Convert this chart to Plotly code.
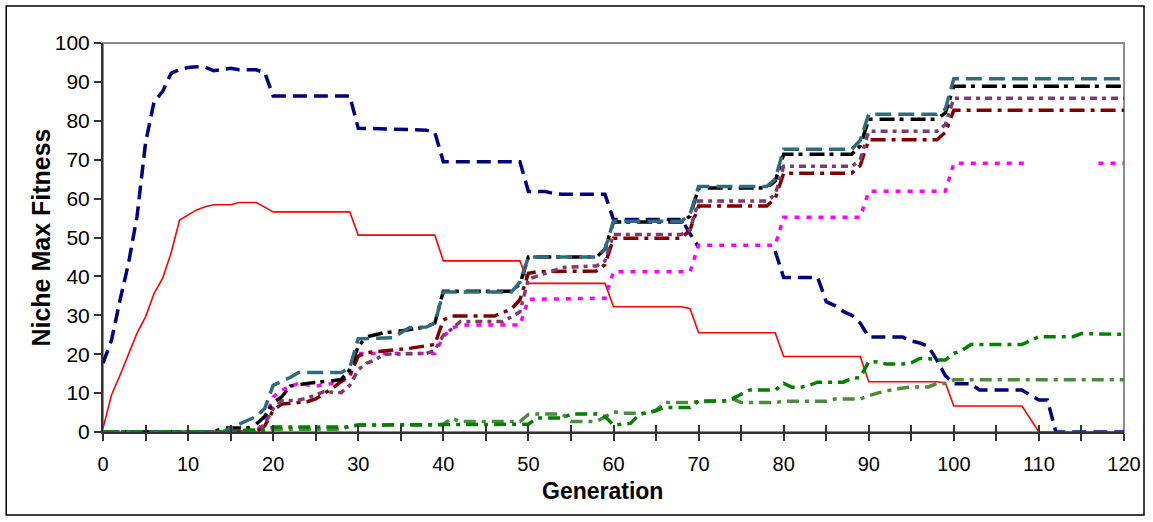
import plotly.graph_objects as go

# ---------------- data (generation, value) vertices ----------------
navy_x = [0, 1, 2, 3, 4, 5, 6, 7, 8, 9, 10, 11, 12, 13, 14, 15, 16, 17, 18, 19, 20, 29, 30, 38, 39, 40,
          49, 50, 52, 53, 54, 58, 59, 60, 68, 69, 70, None, 79, 80, 84, 85, 86, 87, 88, 89, 90, 94, 95, 96,
          97, 98, 99, 100, 102, 103, 108, 110, 111, 112, 120]
navy_y = [17.7, 23.6, 33.9, 43.4, 55.4, 74.3, 84.9, 87.5, 92.2, 93.2, 93.7, 93.9, 93.8, 92.9, 93.2, 93.5,
          93.1, 93.1, 93.1, 92.4, 86.4, 86.4, 78.1, 77.6, 77.0, 69.5, 69.5, 61.8, 61.8, 61.3, 61.1, 61.1,
          61.1, 54.6, 54.6, 51.0, 47.5, None, 46.5, 39.7, 39.7, 33.5, 32.5, 31.0, 30.0, 28.0, 24.4, 24.4,
          23.4, 22.9, 22.0, 18.5, 14.5, 12.4, 12.4, 10.8, 10.8, 8.2, 8.2, 0, 0]

red_x = [0, 1, 2, 3, 4, 5, 6, 7, 8, 9, 10, 11, 12, 13, 14, 15, 16, 17, 18, 19, 20, 29, 30, 39, 40, 49, 50,
         59, 60, 68, 69, 70, 79, 80, 89, 90, 98, 99, 100, 108, 109, 110, 120]
red_y = [1.0, 9.5, 14.6, 20.2, 25.4, 29.6, 35.6, 39.5, 46.0, 54.5, 55.8, 57.1, 57.9, 58.4, 58.4, 58.4,
         59.0, 59.0, 59.0, 57.8, 56.6, 56.6, 50.6, 50.6, 44.0, 44.0, 38.2, 38.2, 32.2, 32.2, 31.7, 25.5,
         25.5, 19.4, 19.4, 12.9, 12.9, 12.6, 6.7, 6.7, 3.4, 0, 0]

teal_x = [0, 14, 15, 16, 17, 18, 19, 20, 21, 22, 23, 28, 29, 30, 34, 35, 36, 38, 39, 40, 48, 49, 50, 58,
          59, 60, 68, 69, 70, 78, 79, 80, 88, 89, 90, 98, 99, 100, 120]
teal_y = [0, 0, 1, 2, 3, 4, 6, 12, 13, 14, 15.3, 15.3, 16.5, 24, 24.2, 25.5, 26.8, 27, 28, 36, 36, 38.5,
          45, 45, 47, 54.2, 54.2, 56, 63.1, 63.1, 65, 72.7, 72.7, 75, 81.7, 81.7, 83, 90.8, 90.8]

black_x = [0, 13, 14, 17, 18, 19, 20, 21, 22, 24, 27, 28, 29, 30, 31, 33, 35, 38, 39, 40, 48, 49, 50, 58,
           59, 60, 68, 69, 70, 78, 79, 80, 88, 89, 90, 98, 99, 100, 120]
black_y = [0, 0, 1, 1, 2, 4, 7.5, 9, 11.8, 12.5, 13.2, 13.5, 16, 22, 24.5, 25.5, 26, 27, 28, 36.2, 36.2,
           38, 45, 45, 47, 54, 54, 55.5, 62.7, 62.7, 64.5, 71.4, 71.4, 73.5, 80.4, 80.4, 82, 88.9, 88.9]

purple_x = [0, 18, 19, 20, 21, 23, 24, 26, 28, 29, 30, 31, 32, 33, 38, 39, 40, 41, 42, 47, 48, 49, 50, 51,
            52, 54, 58, 59, 60, 68, 69, 70, 78, 79, 80, 88, 89, 90, 98, 99, 100, 120]
purple_y = [0, 0, 2, 6, 8, 8.2, 8.7, 10.4, 10.1, 12, 16, 17.7, 18.5, 20, 20.2, 21, 24.9, 26.5, 28.4, 28.4,
            29.6, 30.9, 39.3, 40, 40.8, 42.3, 42.7, 44, 50.8, 50.8, 52, 59.4, 59.4, 61, 68.3, 68.3, 70,
            77.3, 77.3, 79, 85.8, 85.8]

dred_x = [0, 18, 19, 20, 21, 24, 25, 27, 28, 29, 30, 31, 36, 38, 39, 40, 41, 46, 48, 49, 50, 51, 58, 59,
          60, 68, 69, 70, 78, 79, 80, 88, 89, 90, 98, 99, 100, 120]
dred_y = [0, 0, 1.5, 5.6, 7.2, 7.8, 8.5, 11.3, 13, 14.5, 19.5, 20.4, 21.5, 22.1, 22.5, 28.8, 29.8, 29.8,
          31.6, 34, 40.8, 41.2, 41.4, 43, 49.8, 49.8, 52, 58.1, 58.1, 60, 66.5, 66.5, 68.5, 75.1, 75.1,
          77, 82.7, 82.7]

magenta_x = [0, 18, 19, 20, 21, 22, 23, 25, 28, 29, 30, 39, 40, 41, 42, 49, 50, 59, 60, 69, 70, 79, 80,
             89, 90, 99, 100, 109, None, 117, 120]
magenta_y = [0, 0, 3, 9, 10.8, 11.6, 12.5, 11.8, 12.9, 14.2, 20.2, 20.2, 24.5, 26.7, 27.5, 27.5, 34.1,
             34.4, 41.2, 41.2, 48, 48, 55.2, 55.2, 61.9, 61.9, 69.1, 69.1, None, 69.1, 69.1]

green_x = [0, 15, 17, 19, 20, 29, 30, 49, 50, 51, 54, 55, 58, 59, 60, 61, 62, 63, 64, 65, 66, 69, 70, 73,
           74, 76, 79, 80, 81, 82, 83, 84, 87, 88, 89, 90, 91, 92, 94, 95, 96, 97, 98, 99, 100, 101, 102,
           108, 109, 110, 114, 115, 120]
green_y = [0, 0, 0.5, 0.5, 1.3, 1.3, 1.8, 1.8, 2, 3.6, 3.6, 4.6, 4.6, 4, 1.8, 2, 2.2, 4.5, 5, 5.5, 6.3,
           6.3, 8, 8, 8.6, 10.8, 10.8, 12.5, 11.5, 11.5, 12, 12.8, 12.8, 13.8, 14, 18.1, 18, 17.5, 17.5,
           17.8, 18.9, 18.9, 18.5, 18.5, 20.2, 21, 22.5, 22.5, 23.5, 24.5, 24.5, 25.3, 25.1]

olive_x = [0, 16, 17, 19, 20, 28, 29, 30, 39, 40, 41, 42, 49, 50, 51, 54, 55, 58, 59, 60, 61, 64, 65, 66,
           69, 70, 73, 74, 75, 79, 80, 85, 86, 89, 90, 91, 93, 95, 97, 98, 99, 100, 120]
olive_y = [0, 0, 0.4, 0.4, 0.7, 0.7, 1.5, 1.8, 1.8, 2, 3.5, 2.7, 2.7, 4.5, 4.6, 4.6, 2.7, 2.7, 3.9, 5.2,
           4.8, 4.8, 5.5, 7.6, 7.6, 7.8, 8, 8.5, 7.6, 7.6, 7.9, 7.9, 8.5, 8.5, 9.3, 10, 11, 11.6, 11.6,
           12.5, 12.5, 13.4, 13.4]

x_tickvals = list(range(0, 121, 5))
x_ticktext = [str(v) if v % 10 == 0 else "" for v in x_tickvals]
y_tickvals = list(range(0, 101, 10))

series = [
    (navy_x, navy_y, "#000080", 3.5, "14px,7px"),
    (red_x, red_y, "#FF0000", 1.6, "solid"),
    (magenta_x, magenta_y, "#FF00FF", 3.5, "5px,7px"),
    (dred_x, dred_y, "#800000", 3.5, "15px,6px,4px,6px"),
    (purple_x, purple_y, "#7F3B6B", 3.5, "7px,5px,4px,5px"),
    (black_x, black_y, "#000000", 3.5, "15px,5px,4px,7px"),
    (teal_x, teal_y, "#2F6B7A", 3.5, "16px,7px"),
    (olive_x, olive_y, "#4B8B3B", 3.5, "12px,6px,4px,6px"),
    (green_x, green_y, "#008000", 3.5, "12px,6px,4px,6px"),
]

fig = go.Figure()
for xs, ys, col, w, dash in series:
    fig.add_trace(go.Scatter(x=xs, y=ys, mode="lines", connectgaps=False,
                             line=dict(color=col, width=w, dash=dash),
                             showlegend=False, hoverinfo="skip"))

# empty trace so the overlaid tick axis (inside ticks) is drawn
fig.add_trace(go.Scatter(x=[], y=[], xaxis="x2", yaxis="y", showlegend=False, hoverinfo="skip"))

font_family = "Liberation Sans, Arial, sans-serif"

fig.update_layout(
    width=1153, height=522,
    margin=dict(l=103, r=27, t=43, b=90),
    paper_bgcolor="white", plot_bgcolor="white",
    font=dict(family=font_family, color="black", size=20),
    xaxis=dict(range=[0, 120], tickmode="array", tickvals=x_tickvals, ticktext=x_ticktext,
               ticks="outside", ticklen=7, tickwidth=1.5, tickcolor="#333333",
               showline=True, linecolor="#333333", linewidth=2, showgrid=False, zeroline=False,
               layer="below traces", tickfont=dict(size=20), ticklabelstandoff=6),
    xaxis2=dict(range=[0, 120], overlaying="x", anchor="y", side="bottom", tickmode="array",
                tickvals=x_tickvals, showticklabels=False, ticks="inside", ticklen=7, tickwidth=1.5,
                tickcolor="#333333", showline=False, showgrid=False, zeroline=False),
    yaxis=dict(range=[0, 100], tickmode="array", tickvals=y_tickvals,
               ticks="outside", ticklen=7, tickwidth=1.5, tickcolor="#333333",
               showline=True, linecolor="#333333", linewidth=2, showgrid=False, zeroline=False,
               layer="below traces", tickfont=dict(size=21)),
    shapes=[
        dict(type="rect", xref="paper", yref="paper", x0=0, x1=1, y0=0, y1=1,
             line=dict(color="#8C8C8C", width=2), layer="below"),
        dict(type="rect", xref="paper", yref="paper", x0=-0.0948, x1=1.0196, y0=-0.2134, y1=1.0951,
             line=dict(color="black", width=1.5), layer="below"),
    ],
    annotations=[
        dict(text="<b>Generation</b>", xref="paper", yref="paper", x=0.4888, y=-0.1517,
             xanchor="center", yanchor="middle", showarrow=False, font=dict(size=23)),
        dict(text="<b>Niche Max Fitness</b>", xref="paper", yref="paper", x=-0.0616, y=0.5,
             xanchor="center", yanchor="middle", textangle=-90, showarrow=False, font=dict(size=25)),
    ],
)

fig.write_html("out.html", config={"displayModeBar": False},
               post_script="document.body.style.margin='0';")
